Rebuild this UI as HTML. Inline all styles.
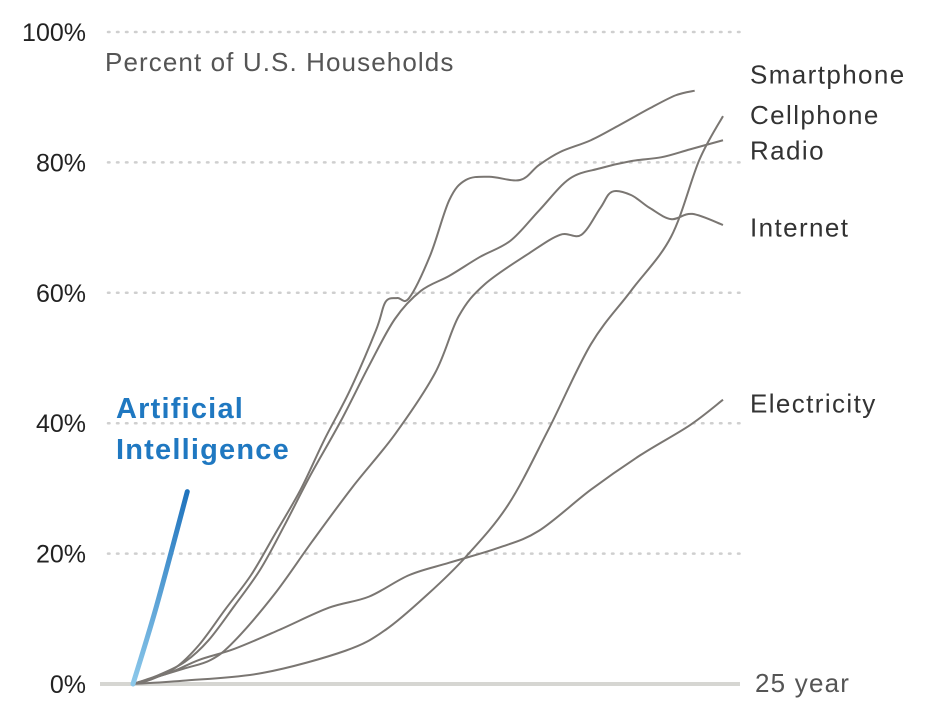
<!DOCTYPE html>
<html><head><meta charset="utf-8"><style>
html,body{margin:0;padding:0;background:#fff;}
svg{display:block;font-family:"Liberation Sans",sans-serif;}
</style></head><body>
<svg id="chart" width="930" height="706" viewBox="0 0 930 706">
<defs>
<linearGradient id="aig" x1="0" y1="1" x2="0" y2="0">
<stop offset="0" stop-color="#8cc8ea"/><stop offset="1" stop-color="#1f73bd"/>
</linearGradient>
</defs>
<g id="grid"></g>
<g id="ylabels"></g>
<text x="105" y="71" font-size="26" letter-spacing="1.1" fill="#555">Percent of U.S. Households</text>
<rect x="100" y="682" width="640" height="4" fill="#d6d6d2"/>
<text x="755" y="692" font-size="26" letter-spacing="1.2" fill="#555">25 year</text>
<g id="series"></g>
<g id="labels"></g>
<text x="116" y="418" font-size="29" letter-spacing="1.2" font-weight="bold" fill="#1f78c1">Artificial</text>
<text x="116" y="459" font-size="29" letter-spacing="1.2" font-weight="bold" fill="#1f78c1">Intelligence</text>
</svg>
<script>
const yTicks=[0,20,40,60,80,100];
const yTickLabels=["0%","20%","40%","60%","80%","100%"];
const smartX=[0,0.7,1.8,2.8,3.9,5.0,6.0,7.1,8.1,9.2,10.3,10.7,11.2,11.7,12.6,13.4,14.1,15.1,16.4,17.2,18.1,19.4,20.6,21.9,23.0,23.8];
const smartY=[0,0.6,2.5,6.0,11.4,16.7,22.9,29.8,37.4,45.1,54.3,58.6,59.2,59.2,65.8,74.2,77.3,77.8,77.3,79.6,81.6,83.4,85.7,88.3,90.3,91.0];
const radioX=[0,1.1,2.2,3.2,4.3,5.4,6.4,7.5,8.8,10.0,11.1,12.2,13.4,14.7,16.0,17.2,18.5,19.8,21.1,22.4,23.6,25.0];
const radioY=[0,1.4,3.4,6.7,12.0,17.6,24.2,31.9,40.3,48.8,56.0,60.3,62.6,65.5,68.0,72.6,77.5,79.1,80.2,80.8,82.0,83.4];
const internetX=[0,2.1,3.3,4.3,6.0,7.6,9.3,11.1,12.8,13.8,14.9,16.8,18.1,19.0,19.8,20.3,21.1,21.9,22.8,23.7,25.0];
const internetY=[0,2.3,3.7,6.6,13.8,21.9,30.2,38.3,47.7,56.4,61.3,66.1,68.9,68.9,73.0,75.5,75.0,73.0,71.3,72.1,70.4];
const cellX=[0,2.1,5.5,9.0,10.7,12.5,14.1,15.9,17.6,19.4,21.1,22.8,24.0,25.0];
const cellY=[0,0.5,1.7,5.1,8.3,13.8,19.5,27.5,39.0,52.1,60.3,68.6,80.4,87.1];
const elecX=[0,1.6,2.8,4.3,6.2,8.3,10.0,11.7,13.4,15.5,17.2,19.4,21.5,23.6,25.0];
const elecY=[0,1.8,3.7,5.4,8.3,11.7,13.4,16.7,18.6,20.9,23.5,29.8,35.1,39.7,43.6];
const aiX=[0,1.0,2.3];
const aiY=[0,12,29.5];
const seriesNames=["Smartphone","Cellphone","Radio","Internet","Electricity"];
const labelPct=[93.5,87.3,81.8,70,43];

const NS="http://www.w3.org/2000/svg";
const X0=133,X1=723,Y0=684,Y1=32;
const sx=v=>X0+(X1-X0)*v/25;
const sy=v=>Y0-(Y0-Y1)*v/100;
function mk(t,a,p){const e=document.createElementNS(NS,t);for(const k in a)e.setAttribute(k,a[k]);p.appendChild(e);return e;}
const grid=document.getElementById('grid'),yl=document.getElementById('ylabels');
yTicks.forEach((t,i)=>{
  if(t>0){const l=mk('line',{x1:108,x2:740,y1:sy(t),y2:sy(t),stroke:'#cfcfcf','stroke-width':2.5,'stroke-dasharray':'1.5 7.5','stroke-linecap':'round'},grid);
  
  }
  const tx=mk('text',{x:86,y:sy(t)+9,'text-anchor':'end','font-size':25,fill:'#222'},yl);
  tx.textContent=yTickLabels[i];
  
  
});
function path(xs,ys){
  const p=xs.map((x,i)=>[sx(x),sy(ys[i])]);
  let d='M'+p[0][0]+','+p[0][1];
  for(let i=0;i<p.length-1;i++){
    const a=p[Math.max(0,i-1)],b=p[i],c=p[i+1],e=p[Math.min(p.length-1,i+2)];
    d+=' C'+(b[0]+(c[0]-a[0])/6)+','+(b[1]+(c[1]-a[1])/6)+' '+(c[0]-(e[0]-b[0])/6)+','+(c[1]-(e[1]-b[1])/6)+' '+c[0]+','+c[1];
  }
  return d;
}
const sg=document.getElementById('series');
const data=[[smartX,smartY,'smartphone'],[cellX,cellY,'cellphone'],[radioX,radioY,'radio'],[internetX,internetY,'internet'],[elecX,elecY,'electricity']];
data.forEach(s=>{
  const e=mk('path',{d:path(s[0],s[1]),fill:'none',stroke:'#7a7672','stroke-width':2},sg);
  
  
});
const ai=mk('path',{d:path(aiX,aiY),fill:'none',stroke:'url(#aig)','stroke-width':5,'stroke-linecap':'round'},sg);


const lg=document.getElementById('labels');
seriesNames.forEach((n,i)=>{
  const t=mk('text',{x:750,y:sy(labelPct[i])+9,'font-size':26,'letter-spacing':1.4,fill:'#333'},lg);
  t.textContent=n;
  
  
});
</script>
</body></html>
